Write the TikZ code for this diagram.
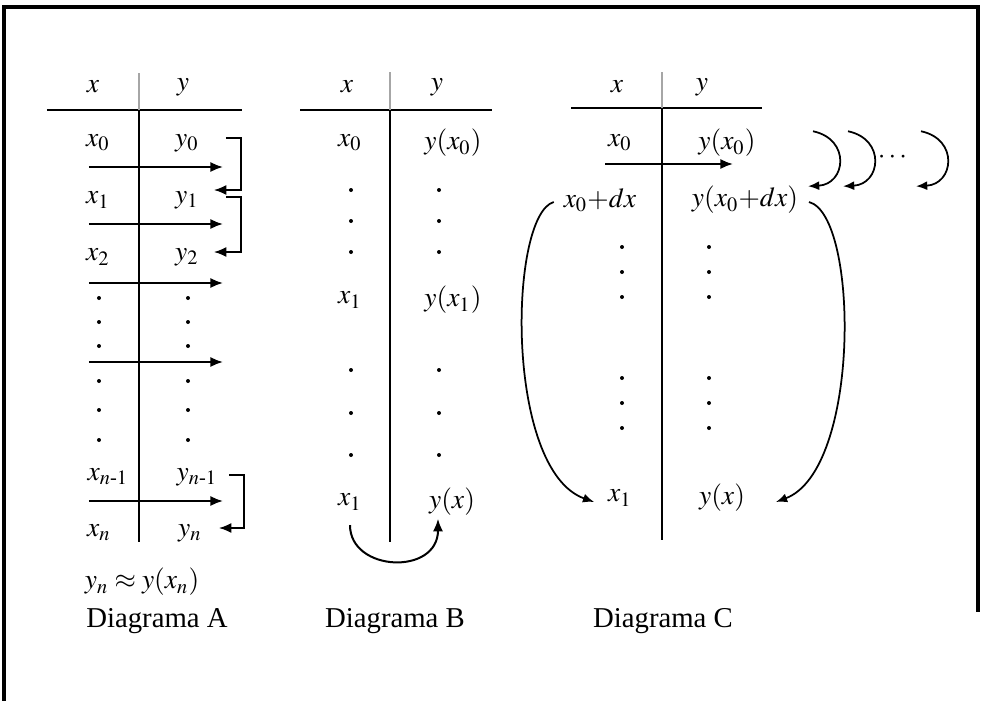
\documentclass[tikz,border=0pt]{standalone}
\usepackage{amsmath}
\usepackage{mathptmx}
\usepackage{fontspec}
\setmainfont{Liberation Serif}
\usetikzlibrary{arrows.meta,calc}

\begin{document}
\begin{tikzpicture}[
  x=0.4pt, y=-0.4pt,
  lbl/.style={inner sep=1pt, font=\fontsize{11}{13}\selectfont},
  capt/.style={inner sep=1pt, font=\fontsize{11.5}{14}\selectfont},
  rule/.style={line width=0.7pt},
  faint/.style={line width=0.5pt, gray!70},
  arrow/.style={-{Latex[length=5pt,width=4pt]}, line width=0.8pt},
  hook/.style={-{Latex[length=4.5pt,width=3.6pt]}, line width=0.7pt}
]
\useasboundingbox (0,0) rectangle (983,701);
\draw[line width=1.3pt] (4,701) -- (4,7) -- (978,7) -- (978,612);

% Diagrama A
\node[lbl] (hxA) at (93,87) {$x$};
\node[lbl] (hyA) at (183,87) {$y$};
\draw[rule] (47,110) -- (242,110);
\draw[faint] (139,73) -- (139,110);
\draw[rule] (139,110) -- (139,542);
\node[lbl] (xA0) at (98,143) {$x_0$};
\node[lbl] (yA0) at (187,143) {$y_0$};
\node[lbl] (xA1) at (98,200) {$x_1$};
\node[lbl] (yA1) at (187,200) {$y_1$};
\node[lbl] (xA2) at (98,257) {$x_2$};
\node[lbl] (yA2) at (187,257) {$y_2$};
\node[lbl] (xAm) at (108,477) {$x_{n\text{-}1}$};
\node[lbl] (yAm) at (197,477) {$y_{n\text{-}1}$};
\node[lbl] (xAn) at (99,533) {$x_n$};
\node[lbl] (yAn) at (190,533) {$y_n$};
\node[lbl] (apxA) at (142,582) {$y_n \approx y(x_n)$};
\node[capt] (capA) at (157,621) {Diagrama A};
\foreach \yy in {298,322,346,381,410,440} {
  \fill (99,\yy) circle (2);
  \fill (188,\yy) circle (2);
}
\foreach \yy [count=\i] in {167,224,283,362,501} {
  \coordinate (sA\i) at (89,\yy);
  \coordinate (eA\i) at (223,\yy);
  \draw[arrow] (sA\i) -- (eA\i);
}
\draw[arrow] ($(yA0.east)+(24,-5)$) -- ++(15,0) |- ($(yA1.east)+(12,-10)$);
\draw[arrow] ($(yA1.east)+(24,-3)$) -- ++(15,0) |- ($(yA2.east)+(12,-5)$);
\draw[arrow] ($(yAm.east)+(9,-2)$) -- ++(15,0) |- ($(yAn.east)+(14,-5)$);

% Diagrama B
\node[lbl] (hxB) at (347,87) {$x$};
\node[lbl] (hyB) at (437,87) {$y$};
\draw[rule] (300,110) -- (492,110);
\draw[faint] (390,72) -- (390,110);
\draw[rule] (390,110) -- (390,542);
\node[lbl] (xB0) at (350,143) {$x_0$};
\node[lbl] (yB0) at (453,143) {$y(x_0)$};
\node[lbl] (xB1) at (350,300) {$x_1$};
\node[lbl] (yB1) at (453,300) {$y(x_1)$};
\node[lbl] (xB2) at (350,502) {$x_1$};
\node[lbl] (yB2) at (452,502) {$y(x)$};
\node[capt] (capB) at (395,621) {Diagrama B};
\foreach \yy in {190,221,252,370,413,455} {
  \fill (351,\yy) circle (2);
  \fill (439,\yy) circle (2);
}
\draw[arrow] ($(xB2.south)+(0,12)$) .. controls +(0,47) and +(0,57) .. ($(yB2.south)+(-14,0)$);

% Diagrama C
\node[lbl] (hxC) at (617,87) {$x$};
\node[lbl] (hyC) at (702,87) {$y$};
\draw[rule] (571,108) -- (762,108);
\draw[faint] (662,72) -- (662,108);
\draw[rule] (662,108) -- (662,540);
\node[lbl] (xC0) at (620,143) {$x_0$};
\node[lbl] (yC0) at (727,143) {$y(x_0)$};
\node[lbl] (xC1) at (600,200) {$x_0{+}dx$};
\node[lbl] (yC1) at (745,200) {$y(x_0{+}dx)$};
\node[lbl] (xC2) at (620,498) {$x_1$};
\node[lbl] (yC2) at (722,498) {$y(x)$};
\node[lbl] (ellC) at (894,157) {$\cdots$};
\node[capt] (capC) at (663,621) {Diagrama C};
\foreach \yy in {247,272,297,378,403,428} {
  \fill (622,\yy) circle (2);
  \fill (709,\yy) circle (2);
}
\coordinate (sC) at (605,164);
\coordinate (eC) at (733,164);
\draw[arrow] (sC) -- (eC);
\foreach \dx in {0,35,108}
  \draw[hook] ($(yC1.north east)+(12+\dx,-52)$) .. controls +(38,8) and +(38,-2) .. ($(yC1.north east)+(7+\dx,3)$);
\draw[hook] ($(xC1.west)+(-7,2)$) .. controls +(-45,13) and +(-90,-32) .. ($(xC2.west)+(-11,4)$);
\draw[hook] ($(yC1.east)+(8,2)$) .. controls +(50,13) and +(85,-32) .. ($(yC2.east)+(28,4)$);
\end{tikzpicture}
\end{document}
